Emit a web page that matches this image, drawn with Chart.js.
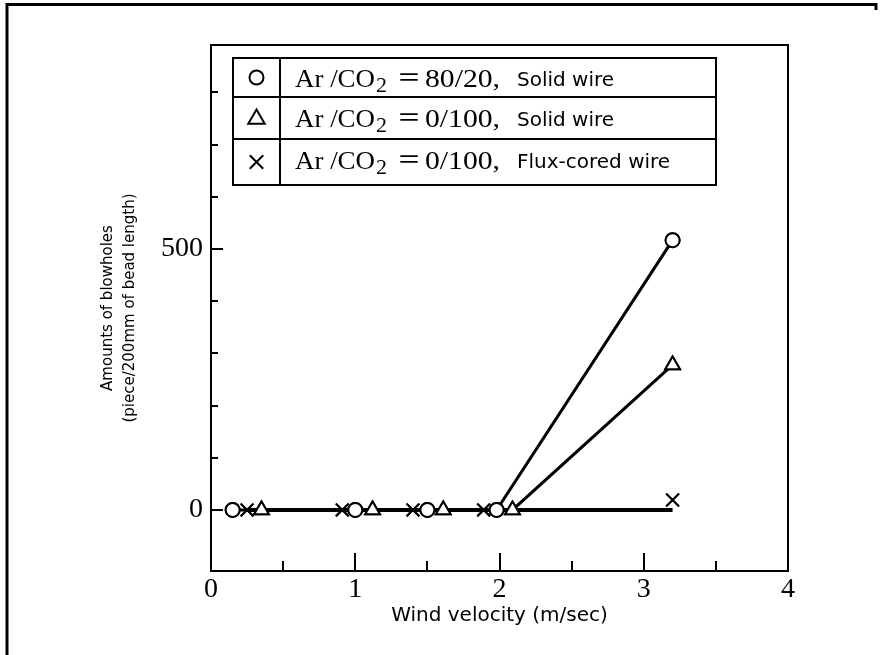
<!DOCTYPE html>
<html>
<head>
<meta charset="utf-8">
<script src="https://cdn.jsdelivr.net/npm/chart.js@4.4.1/dist/chart.umd.min.js"></script>
<style>
html,body{margin:0;padding:0;background:#fff;}
#wrap{width:883px;height:655px;position:relative;overflow:hidden;}
</style>
</head>
<body>
<div id="wrap"><canvas id="c" width="883" height="655"></canvas></div>
<script>
// ---- data ----
const xTickValues = [0, 0.5, 1, 1.5, 2, 2.5, 3, 3.5, 4];
const xTickLabels = ['0', '', '1', '', '2', '', '3', '', '4'];
const yTickValues = [0, 100, 200, 300, 400, 500, 600, 700, 800];
const yTickLabels = ['0', '', '', '', '', '500', '', '', ''];

const seriesGas = ['80/20,', '0/100,', '0/100,'];
const seriesWire = ['Solid wire', 'Solid wire', 'Flux-cored wire'];

// Ar/CO2 = 80/20, solid wire (circles)
const circleX = [0.15, 1.0, 1.5, 1.98, 3.2];
const circleY = [0, 0, 0, 0, 517];
// Ar/CO2 = 0/100, solid wire (triangles)
const triX = [0.35, 1.12, 1.61, 2.09, 3.2];
const triY = [0, 0, 0, 0, 278];
// Ar/CO2 = 0/100, flux-cored wire (crosses)
const crossX = [0.25, 0.91, 1.4, 1.89, 3.2];
const crossY = [0, 0, 0, 0, 19];
// flux-cored wire curve (drawn flat at 0)
const crossLineX = [0.25, 3.2];
const crossLineY = [0, 0];

const xTitle = 'Wind velocity (m/sec)';
const yTitle = ['Amounts of blowholes', '(piece/200mm of bead length)'];

const pts = (xs, ys) => xs.map((x, i) => ({x: x, y: ys[i]}));

const serif = '"Liberation Serif", "Times New Roman", serif';
const sans = '"DejaVu Sans", sans-serif';

function fitText(ctx, text, x, y, width) {
  const w = ctx.measureText(text).width;
  ctx.save();
  ctx.translate(x, y);
  ctx.scale(width / w, 1);
  ctx.fillText(text, 0, 0);
  ctx.restore();
}

const decor = {
  id: 'decor',
  afterDatasetsDraw(chart) {
    const ctx = chart.ctx;
    [0, 1, 2].forEach(i => {
      chart.getDatasetMeta(i).data.forEach(el => el.draw(ctx, chart.chartArea));
    });
  },
  afterDraw(chart) {
    const ctx = chart.ctx;
    const a = chart.chartArea;
    const xs = chart.scales.x, ys = chart.scales.y;
    ctx.save();
    ctx.strokeStyle = '#000';
    ctx.fillStyle = '#000';
    ctx.lineWidth = 2;
    ctx.strokeRect(a.left, a.top, a.right - a.left, a.bottom - a.top);
    xTickValues.forEach((v, i) => {
      if (v === xs.min || v === xs.max) return;
      const px = Math.round(xs.getPixelForValue(v));
      const len = xTickLabels[i] !== '' ? 18 : 10;
      ctx.beginPath(); ctx.moveTo(px, a.bottom); ctx.lineTo(px, a.bottom - len); ctx.stroke();
    });
    yTickValues.forEach((v, i) => {
      const py = Math.round(ys.getPixelForValue(v));
      const len = yTickLabels[i] !== '' ? 12 : 7;
      ctx.beginPath(); ctx.moveTo(a.left, py); ctx.lineTo(a.left + len, py); ctx.stroke();
    });

    // legend box
    const L = {x0: 233, x1: 716, rows: [58, 97, 139, 185], col: 280};
    ctx.lineWidth = 2;
    ctx.fillStyle = '#fff';
    ctx.fillRect(L.x0, L.rows[0], L.x1 - L.x0, L.rows[3] - L.rows[0]);
    ctx.strokeRect(L.x0, L.rows[0], L.x1 - L.x0, L.rows[3] - L.rows[0]);
    ctx.beginPath();
    ctx.moveTo(L.x0, L.rows[1]); ctx.lineTo(L.x1, L.rows[1]);
    ctx.moveTo(L.x0, L.rows[2]); ctx.lineTo(L.x1, L.rows[2]);
    ctx.moveTo(L.col, L.rows[0]); ctx.lineTo(L.col, L.rows[3]);
    ctx.stroke();
    const symX = 256.5;
    const baselines = [87, 127, 169];
    const styles = ['circle', 'triangle', 'crossRot'];
    for (let r = 0; r < 3; r++) {
      const cy = (L.rows[r] + L.rows[r + 1]) / 2;
      ctx.fillStyle = '#fff';
      ctx.strokeStyle = '#000';
      ctx.lineWidth = 2;
      Chart.helpers.drawPoint(ctx, {
        pointStyle: styles[r], rotation: 0,
        radius: r === 0 ? 7 : (r === 1 ? 9.5 : 9.5), borderWidth: 2
      }, symX, cy + (r === 1 ? 1 : 0));
      ctx.fillStyle = '#000';
      const b = baselines[r];
      ctx.textAlign = 'left';
      ctx.textBaseline = 'alphabetic';
      ctx.font = '25px ' + serif;
      fitText(ctx, 'Ar /CO', 295, b, 80);
      ctx.font = '22px ' + serif;
      ctx.fillText('2', 376, b + 5);
      ctx.font = '24px "Noto Sans CJK JP", ' + serif;
      ctx.fillText('\uFF1D', 397, b - 1);
      ctx.font = '25px ' + serif;
      fitText(ctx, seriesGas[r], 425, b, 75);
      ctx.font = '20px ' + sans;
      ctx.fillText(seriesWire[r], 517, b - 1);
    }

    // outer frame (page border)
    ctx.lineWidth = 3;
    ctx.beginPath();
    ctx.moveTo(7, 655); ctx.lineTo(7, 4.5); ctx.lineTo(876, 4.5); ctx.lineTo(876, 10);
    ctx.stroke();
    ctx.restore();
  }
};

const markerCommon = {
  borderColor: '#000', borderWidth: 3,
  pointBackgroundColor: '#fff', pointBorderColor: '#000', pointBorderWidth: 2,
  showLine: true, tension: 0, fill: false
};

new Chart(document.getElementById('c'), {
  type: 'scatter',
  data: {
    datasets: [
      Object.assign({label: 'Ar/CO2=80/20, Solid wire', data: pts(circleX, circleY),
        pointStyle: 'circle', pointRadius: 7, pointHoverRadius: 7}, markerCommon),
      Object.assign({label: 'Ar/CO2=0/100, Solid wire', data: pts(triX, triY),
        pointStyle: 'triangle', pointRadius: 8.5, pointHoverRadius: 8.5}, markerCommon),
      Object.assign({}, markerCommon, {label: 'Ar/CO2=0/100, Flux-cored wire', data: pts(crossX, crossY),
        pointStyle: 'crossRot', pointRadius: 9, pointHoverRadius: 9, showLine: false}),
      {label: 'flux line', data: pts(crossLineX, crossLineY), showLine: true,
        borderColor: '#000', borderWidth: 4, pointRadius: 0, pointHoverRadius: 0}
    ]
  },
  options: {
    responsive: false,
    animation: false,
    devicePixelRatio: 1,
    layout: {padding: {left: 0, top: 45, right: 95, bottom: 0}},
    plugins: {legend: {display: false}, tooltip: {enabled: false}},
    scales: {
      x: {
        type: 'linear', min: 0, max: 4,
        afterBuildTicks: s => { s.ticks = xTickValues.map(v => ({value: v})); },
        afterFit: s => { s.height = 84; },
        ticks: {
          autoSkip: false, maxRotation: 0, padding: 2, color: '#000',
          font: {family: serif, size: 28},
          callback: v => xTickLabels[xTickValues.indexOf(v)]
        },
        grid: {display: true, drawOnChartArea: false, drawTicks: false},
        border: {display: true, color: '#000', width: 2},
        title: {display: true, text: xTitle, color: '#000',
          font: {family: sans, size: 20, lineHeight: 1.2}, padding: {top: 0, bottom: 27}}
      },
      y: {
        type: 'linear', min: -117, max: 891,
        afterBuildTicks: s => { s.ticks = yTickValues.map(v => ({value: v})); },
        afterFit: s => { s.width = 211; },
        ticks: {
          autoSkip: false, padding: 8, color: '#000',
          font: {family: serif, size: 28},
          callback: v => yTickLabels[yTickValues.indexOf(v)]
        },
        grid: {display: true, drawOnChartArea: false, drawTicks: false},
        border: {display: true, color: '#000', width: 2},
        title: {display: true, text: yTitle, color: '#000',
          font: {family: sans, size: 15, lineHeight: 1.45}, padding: {top: 97, bottom: 0}}
      }
    }
  },
  plugins: [decor]
});
</script>
</body>
</html>
